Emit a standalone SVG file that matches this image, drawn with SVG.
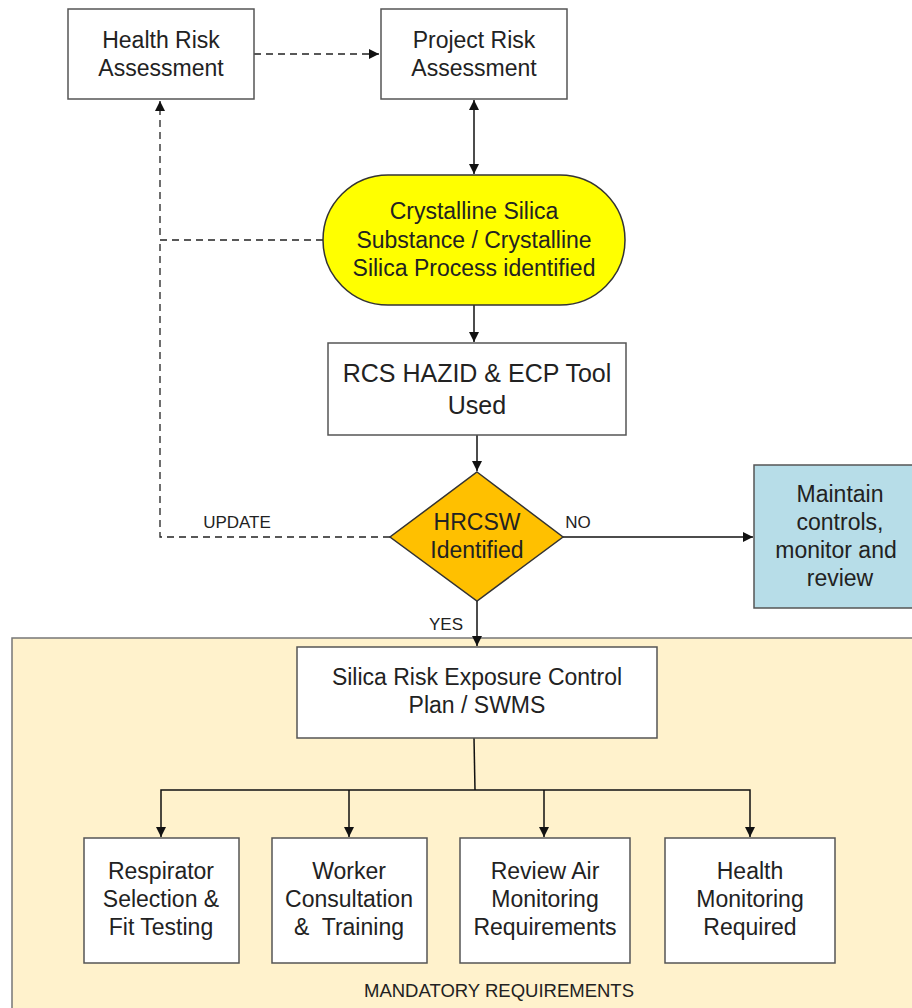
<svg xmlns="http://www.w3.org/2000/svg" width="912" height="1008" viewBox="0 0 912 1008">
<style>
text{font-family:"Liberation Sans",Arial,sans-serif;fill:#222;text-anchor:middle}
.n{font-size:23px}
.l{font-size:17px}
.box{fill:#fff;stroke:#555;stroke-width:1.5}
.c{fill:none;stroke:#111;stroke-width:1.5}
.d{fill:none;stroke:#222;stroke-width:1.3;stroke-dasharray:7 5}
</style>
<defs>
<marker id="a" viewBox="0 0 10 10" refX="10" refY="5" markerWidth="10" markerHeight="10" markerUnits="userSpaceOnUse" orient="auto-start-reverse"><path d="M0,0L10,5L0,10z" fill="#111"/></marker>
</defs>
<g id="container">
<rect x="12" y="638" width="910" height="380" fill="#FFF2CC" stroke="#777" stroke-width="1.5"/>
<text x="499" y="997" style="font-size:18.5px">MANDATORY REQUIREMENTS</text>
</g>
<g id="connectors">
<path class="d" d="M254,54H379" marker-end="url(#a)"/>
<path class="c" d="M474,100V174" marker-start="url(#a)" marker-end="url(#a)"/>
<path class="d" d="M323,240H160V101" marker-end="url(#a)"/>
<path class="d" d="M390,537H160V240"/>
<path class="c" d="M474,305V342" marker-end="url(#a)"/>
<path class="c" d="M477,435V471" marker-end="url(#a)"/>
<path class="c" d="M563,537H753" marker-end="url(#a)"/>
<path class="c" d="M477,601V646" marker-end="url(#a)"/>
<path class="c" d="M474,738L475,790"/>
<path class="c" d="M161,837V790H750V837" marker-start="url(#a)" marker-end="url(#a)"/>
<path class="c" d="M349,790V837" marker-end="url(#a)"/>
<path class="c" d="M544,790V837" marker-end="url(#a)"/>
<text class="l" x="237" y="528">UPDATE</text>
<text class="l" x="578" y="528">NO</text>
<text class="l" x="446" y="630">YES</text>
</g>
<g id="health-risk">
<rect class="box" x="68" y="9" width="186" height="90"/>
<text class="n" x="161" y="48">Health Risk</text>
<text class="n" x="161" y="76">Assessment</text>
</g>
<g id="project-risk">
<rect class="box" x="381" y="9" width="186" height="90"/>
<text class="n" x="474" y="48">Project Risk</text>
<text class="n" x="474" y="76">Assessment</text>
</g>
<g id="silica-identified">
<rect x="323" y="175" width="302" height="130" rx="65" ry="65" fill="#FFFF00" stroke="#333" stroke-width="1.5"/>
<text class="n" x="474" y="219">Crystalline Silica</text>
<text class="n" x="474" y="248">Substance / Crystalline</text>
<text class="n" x="474" y="276">Silica Process identified</text>
</g>
<g id="rcs-hazid">
<rect class="box" x="328" y="343" width="298" height="92"/>
<text x="477" y="382" style="font-size:25px">RCS HAZID &amp; ECP Tool</text>
<text x="477" y="414" style="font-size:25px">Used</text>
</g>
<g id="hrcsw">
<polygon points="477,472 563,537 477,601 390,537" fill="#FFC000" stroke="#333" stroke-width="1.5"/>
<text class="n" x="477" y="530">HRCSW</text>
<text class="n" x="477" y="558">Identified</text>
</g>
<g id="maintain">
<rect x="754" y="465" width="170" height="143" fill="#B7DDE8" stroke="#555" stroke-width="1.5"/>
<text class="n" x="840" y="502">Maintain</text>
<text class="n" x="840" y="530">controls,</text>
<text class="n" x="836" y="558">monitor and</text>
<text class="n" x="840" y="586">review</text>
</g>
<g id="silica-plan">
<rect class="box" x="297" y="647" width="360" height="91"/>
<text class="n" x="477" y="685">Silica Risk Exposure Control</text>
<text class="n" x="477" y="713">Plan / SWMS</text>
</g>
<g id="respirator">
<rect class="box" x="84" y="838" width="155" height="125"/>
<text class="n" x="161" y="879">Respirator</text>
<text class="n" x="161" y="907">Selection &amp;</text>
<text class="n" x="161" y="935">Fit Testing</text>
</g>
<g id="worker">
<rect class="box" x="272" y="838" width="155" height="125"/>
<text class="n" x="349" y="879">Worker</text>
<text class="n" x="349" y="907">Consultation</text>
<text class="n" x="349" y="935">&amp;&#160; Training</text>
</g>
<g id="air-monitoring">
<rect class="box" x="460" y="838" width="170" height="125"/>
<text class="n" x="545" y="879">Review Air</text>
<text class="n" x="545" y="907">Monitoring</text>
<text class="n" x="545" y="935">Requirements</text>
</g>
<g id="health-monitoring">
<rect class="box" x="665" y="838" width="170" height="125"/>
<text class="n" x="750" y="879">Health</text>
<text class="n" x="750" y="907">Monitoring</text>
<text class="n" x="750" y="935">Required</text>
</g>
</svg>
